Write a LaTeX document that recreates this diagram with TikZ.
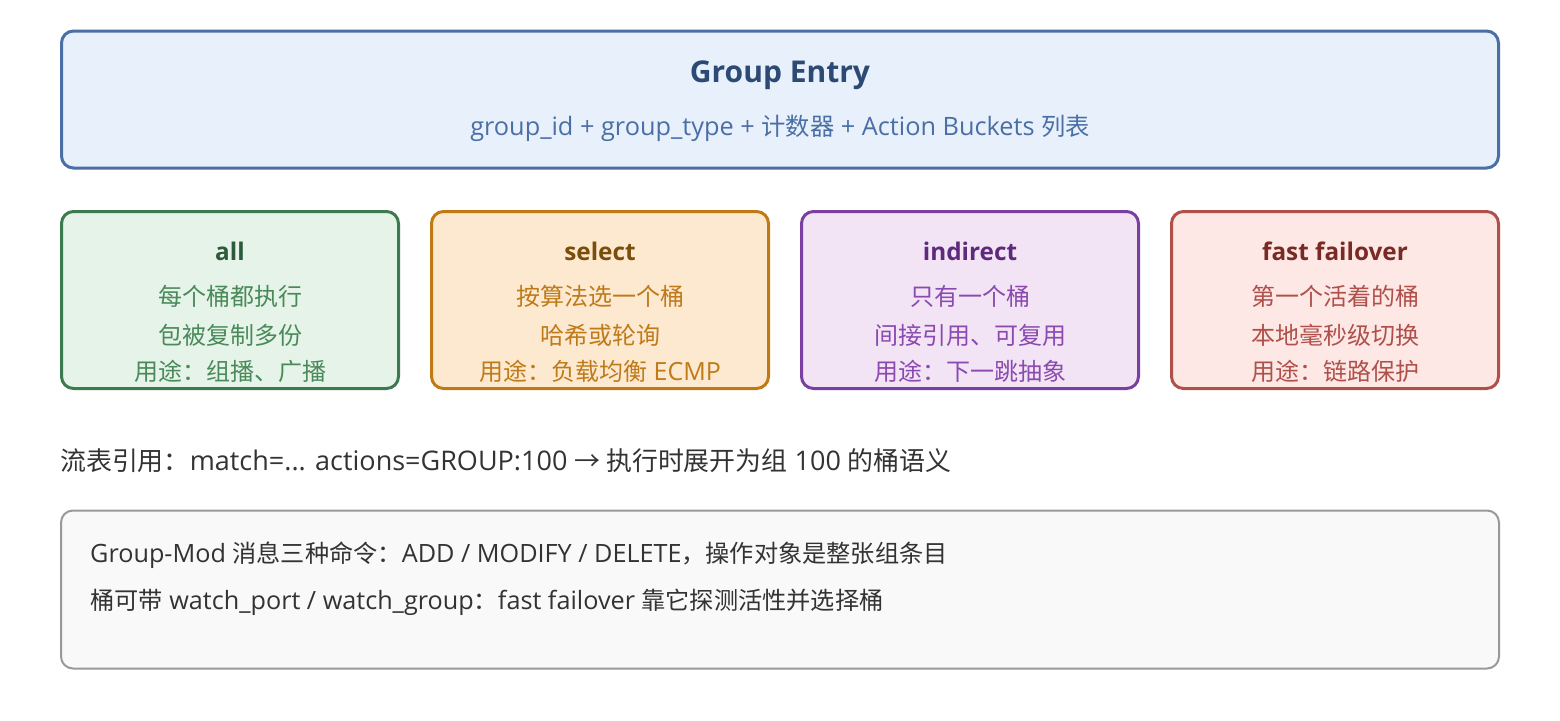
\documentclass[tikz,border=0pt]{standalone}
\usepackage{fontspec}
\setmainfont{Open Sans}
\newfontfamily\cjk[Scale=0.96]{Noto Sans CJK SC}
\newcommand{\zh}[1]{{\cjk #1}}
\usetikzlibrary{positioning}
\definecolor{Entry-line}{HTML}{4A6FA5}
\definecolor{Entry-fill}{HTML}{E8F0FC}
\definecolor{Entry-head}{HTML}{2C4A73}
\definecolor{All-line}{HTML}{3D7A50}
\definecolor{All-fill}{HTML}{E6F3E8}
\definecolor{All-head}{HTML}{2D5A3A}
\definecolor{All-text}{HTML}{4A8A5A}
\definecolor{Sel-line}{HTML}{C07A15}
\definecolor{Sel-fill}{HTML}{FCE9CF}
\definecolor{Sel-head}{HTML}{7A4D0A}
\definecolor{Sel-text}{HTML}{BF7A1A}
\definecolor{Ind-line}{HTML}{7A3FA0}
\definecolor{Ind-fill}{HTML}{F2E4F5}
\definecolor{Ind-head}{HTML}{5E2A7E}
\definecolor{Ind-text}{HTML}{8A4AB0}
\definecolor{Ff-line}{HTML}{B0504A}
\definecolor{Ff-fill}{HTML}{FDE8E6}
\definecolor{Ff-head}{HTML}{7A2A25}
\definecolor{Ff-text}{HTML}{B0504A}
\definecolor{Note-line}{HTML}{999999}
\definecolor{Note-fill}{HTML}{F9F9F9}
\definecolor{Note-text}{HTML}{333333}

\begin{document}
\begin{tikzpicture}[x=1pt, y=-1pt]
      \tikzset{ box/.style  ={rounded corners=12pt, line width=3pt, inner sep=0pt                                 } }
      \tikzset{ gbox/.style ={box, minimum width=337pt, minimum height=177pt                                    } }
      \tikzset{ big/.style  ={font=\fontsize{30}{34}\selectfont\bfseries, inner sep=0pt                          } }
      \tikzset{ head/.style ={font=\fontsize{24.3}{28}\selectfont\bfseries, inner sep=0pt                        } }
      \tikzset{ body/.style ={font=\fontsize{25}{28}\selectfont, inner sep=0pt                                   } }
      \tikzset{ line/.style ={font=\fontsize{25.2}{28}\selectfont, inner sep=0pt, anchor=west, text=Note-text    } }

      \path[use as bounding box] (0,0) rectangle (1560,720);

      % group entry
      \node[box, draw=Entry-line, fill=Entry-fill, minimum width=1437pt, minimum height=137pt] (entry) at (780,99.5) {};
      \node[big,  text=Entry-head] (entryhead) at (780,75)  {Group Entry};
      \node[body, text=Entry-line, font=\fontsize{25.3}{28}\selectfont] (entrysub) at (780,128) {group\_id + group\_type + \zh{计数器} + Action Buckets \zh{列表}};

      % group types
      \node[gbox, draw=All-line, fill=All-fill] (all) at (230,300) {};
      \node[head, text=All-head] (allhead) at (230,251) {all};
      \node[body, text=All-text] (all1)    at (230,296) {\zh{每个桶都执行}};
      \node[body, text=All-text] (all2)    at (230,335) {\zh{包被复制多份}};
      \node[body, text=All-text] (all3)    at (230,371) {\zh{用途：组播、广播}};

      \node[gbox, draw=Sel-line, fill=Sel-fill] (sel) at (600,300) {};
      \node[head, text=Sel-head] (selhead) at (600,251) {select};
      \node[body, text=Sel-text] (sel1)    at (600,296) {\zh{按算法选一个桶}};
      \node[body, text=Sel-text] (sel2)    at (600,335) {\zh{哈希或轮询}};
      \node[body, text=Sel-text] (sel3)    at (600,371) {\zh{用途：负载均衡} ECMP};

      \node[gbox, draw=Ind-line, fill=Ind-fill] (ind) at (970,300) {};
      \node[head, text=Ind-head] (indhead) at (970,251) {indirect};
      \node[body, text=Ind-text] (ind1)    at (970,296) {\zh{只有一个桶}};
      \node[body, text=Ind-text] (ind2)    at (970,335) {\zh{间接引用、可复用}};
      \node[body, text=Ind-text] (ind3)    at (970,371) {\zh{用途：下一跳抽象}};

      \node[gbox, draw=Ff-line, fill=Ff-fill, minimum width=327pt] (ff) at (1335,300) {};
      \node[head, text=Ff-head] (ffhead) at (1335,251) {fast failover};
      \node[body, text=Ff-text] (ff1)    at (1335,296) {\zh{第一个活着的桶}};
      \node[body, text=Ff-text] (ff2)    at (1335,335) {\zh{本地毫秒级切换}};
      \node[body, text=Ff-text] (ff3)    at (1335,371) {\zh{用途：链路保护}};

      % flow reference
      \node[line, font=\fontsize{27}{30}\selectfont] (flow) at (60,461) {\zh{流表引用：}match=... actions=GROUP:100 \zh{→ 执行时展开为组} 100 \zh{的桶语义}};

      % notes
      \node[box, line width=2pt, draw=Note-line, fill=Note-fill, minimum width=1438pt, minimum height=158pt] (note) at (780,589.5) {};
      \node[line] (note1) at (90,555) {Group-Mod \zh{消息三种命令：}ADD / MODIFY / DELETE\zh{，操作对象是整张组条目}};
      \node[line] (note2) at (90,602) {\zh{桶可带} watch\_port / watch\_group\zh{：}fast failover \zh{靠它探测活性并选择桶}};
    \end{tikzpicture}
\end{document}
